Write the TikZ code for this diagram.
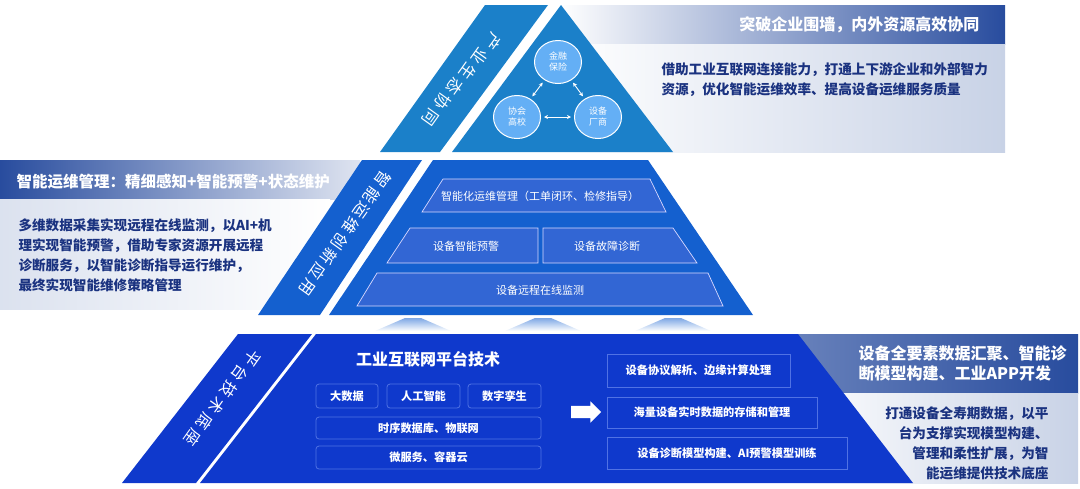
\documentclass[tikz,border=0pt]{standalone}
\usepackage{fontspec}
\setmainfont{Noto Sans CJK SC}
\usetikzlibrary{arrows.meta,shapes.geometric,shapes.arrows,positioning}

\definecolor{topblue}{RGB}{27,128,201}
\definecolor{midblue}{RGB}{20,96,207}
\definecolor{botblue}{RGB}{15,57,204}
\definecolor{navy}{RGB}{26,50,128}
\definecolor{hdblue}{RGB}{40,76,158}
\definecolor{paleblue}{RGB}{200,210,230}
\definecolor{ringblue}{RGB}{100,175,245}
\definecolor{boxblue}{RGB}{50,102,212}
\definecolor{edgeblue}{RGB}{80,114,228}

\begin{document}
\begin{tikzpicture}[x=1pt,y=-1pt,>={Stealth[length=4pt,width=4pt]},
  bandtxt/.style={text=white,font=\fontsize{16}{16}\selectfont,rotate=-125.5,inner sep=0},
  head/.style={text=white,font=\bfseries\fontsize{16}{20}\selectfont,align=left},
  note/.style={text=navy,font=\bfseries\fontsize{13.6}{20}\selectfont,align=left},
  ring/.style={ellipse,draw=white,line width=1pt,fill=ringblue,minimum width=47,minimum height=43,
    inner sep=0,align=center,text=white,font=\fontsize{9}{11}\selectfont},
  layer/.style={draw=white!85!blue,line width=0.7pt,fill=boxblue},
  layertxt/.style={text=white,font=\fontsize{11}{13}\selectfont},
  techbox/.style={draw=edgeblue,line width=0.8pt,rounded corners=3pt,fill=botblue,inner sep=0,
    text=white,font=\bfseries\fontsize{11.2}{13}\selectfont},
  funcbox/.style={draw=edgeblue,line width=0.8pt,fill=botblue,inner sep=0,
    text=white,font=\bfseries\fontsize{11.2}{13}\selectfont}]
  \useasboundingbox (0,0) rectangle (1080,488);

  % callouts behind the pyramid
  \shade[left color=white,right color=hdblue] (560,5) rectangle (1005,44);
  \shade[left color=white,right color=paleblue] (560,44) rectangle (1005,152);
  \shade[left color=hdblue,right color=hdblue!15] (0,160) rectangle (360,199);
  \shade[left color=paleblue!65,right color=white] (0,199) rectangle (330,309);
  \shade[left color=hdblue!70,right color=hdblue] (790,334) rectangle (1078,393);
  \shade[left color=white,right color=paleblue] (790,393) rectangle (1078,483);

  % top tier
  \fill[topblue] (485,5) -- (548,5) -- (440,152) -- (380,152) -- cycle;
  \fill[topblue] (561,5) -- (673,152) -- (452,152) -- cycle;
  \foreach \ch [count=\i from 0] in {产,业,生,态,协,同}
    \node[bandtxt] (eco\i) at ({493-12.6*\i},{42+15*\i}) {\ch};
  \node[ring] (fin) at (558,62) {金融\\保险};
  \node[ring] (edu) at (517,117) {协会\\高校};
  \node[ring] (oem) at (598,117) {设备\\厂商};
  \draw[<->,white,line width=0.9pt,shorten <=3pt,shorten >=3pt] (fin) -- (edu);
  \draw[<->,white,line width=0.9pt,shorten <=3pt,shorten >=3pt] (fin) -- (oem);
  \draw[<->,white,line width=0.9pt,shorten <=3pt,shorten >=3pt] (edu) -- (oem);

  % middle tier
  \fill[midblue] (362,160) -- (422,160) -- (320,315) -- (258,315) -- cycle;
  \fill[midblue] (433,160) -- (648,160) -- (753,315) -- (329,315) -- cycle;
  \foreach \ch [count=\i from 0] in {智,能,运,维,创,新,应,用}
    \node[bandtxt] (ops\i) at ({383-10.86*\i},{180+15.29*\i}) {\ch};
  \draw[layer] (443,179) -- (650,179) -- (666,212) -- (422,212) -- cycle;
  \draw[layer] (410,228) -- (538,228) -- (538,263) -- (387,263) -- cycle;
  \draw[layer] (543,228) -- (673,228) -- (697,263) -- (543,263) -- cycle;
  \draw[layer] (377,273) -- (708,273) -- (723,306) -- (357,306) -- cycle;
  \node[layertxt] (mgmt) at (540,196) {智能化运维管理（工单闭环、检修指导）};
  \node[layertxt] (warn) at (466,246) {设备智能预警};
  \node[layertxt] (diag) at (607,246) {设备故障诊断};
  \node[layertxt] (moni) at (540,290) {设备远程在线监测};

  % glows between middle and bottom tier
  \foreach \gx in {413,543,673}
    \shade[top color=midblue!55,bottom color=white]
      (\gx-38,331) -- (\gx-8,318) -- (\gx+8,318) -- (\gx+38,331) -- cycle;

  % bottom tier
  \fill[botblue] (238,334) -- (312,334) -- (196,483) -- (122,483) -- cycle;
  \fill[botblue] (316,334) -- (798,334) -- (913,483) -- (200,483) -- cycle;
  \foreach \ch [count=\i from 0] in {平,台,技,术,底,座}
    \node[bandtxt] (base\i) at ({252-11.8*\i},{358+16*\i}) {\ch};
  \node[head] (plat) at (428,359) {工业互联网平台技术};
  \node[techbox,minimum width=62,minimum height=24] (bigd) at (347,396) {大数据};
  \node[techbox,minimum width=73,minimum height=24] (ai) at (423.5,396) {人工智能};
  \node[techbox,minimum width=73,minimum height=24] (twin) at (504.5,396) {数字孪生};
  \node[techbox,minimum width=225,minimum height=22] (tsdb) at (428.5,428) {时序数据库、物联网};
  \node[techbox,minimum width=225,minimum height=23] (cloud) at (428.5,457.5) {微服务、容器云};
  \node[single arrow,fill=white,minimum height=30,minimum width=0,inner xsep=0,inner ysep=6pt,
    single arrow head extend=4.5pt,single arrow head indent=0] (go) at (583,412) {};
  \node[funcbox,minimum width=183,minimum height=33] (edge) at (698.5,370.5) {设备协议解析、边缘计算处理};
  \node[funcbox,minimum width=210,minimum height=31] (store) at (712,412.5) {海量设备实时数据的存储和管理};
  \node[funcbox,minimum width=240,minimum height=32] (model) at (727,453) {设备诊断模型构建、AI预警模型训练};

  % callout texts
  \node[head,anchor=east] (t1) at (983,25) {突破企业围墙，内外资源高效协同};
  \node[note,anchor=west] (n1) at (658,80)
    {借助工业互联网连接能力，打通上下游企业和外部智力\\资源，优化智能运维效率、提高设备运维服务质量};
  \node[head,anchor=west,font=\bfseries\fontsize{15.5}{20}\selectfont] (t2) at (13,182)
    {智能运维管理：精细感知+智能预警+状态维护};
  \node[note,anchor=west] (n2) at (15,255)
    {多维数据采集实现远程在线监测，以AI+机\\理实现智能预警，借助专家资源开展远程\\诊断服务，以智能诊断指导运行维护，\\最终实现智能维修策略管理};
  \node[head,anchor=west] (t3) at (855,363)
    {设备全要素数据汇聚、智能诊\\断模型构建、工业APP开发};
  \node[note,anchor=east,align=right] (n3) at (1052,443)
    {打通设备全寿期数据，以平\\台为支撑实现模型构建、\\管理和柔性扩展，为智\\能运维提供技术底座};
\end{tikzpicture}
\end{document}
